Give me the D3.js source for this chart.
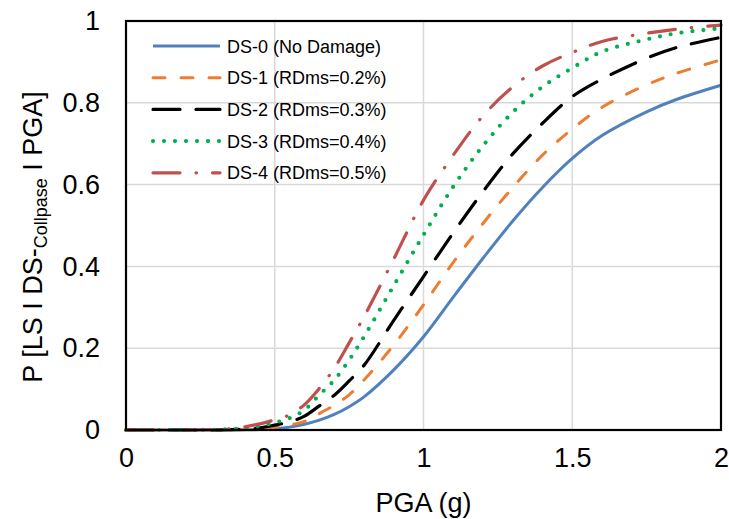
<!DOCTYPE html>
<html>
<head>
<meta charset="utf-8">
<script src="https://cdn.jsdelivr.net/npm/d3@7"></script>
<style>
  body { margin: 0; background: #fff; }
  text { font-family: "Liberation Sans", Arial, sans-serif; fill: #000; }
</style>
</head>
<body>
<div id="chart"></div>
<script>

var pgaValues = [0, 0.1, 0.2, 0.3, 0.35, 0.4, 0.45, 0.5, 0.55, 0.6, 0.65, 0.7, 0.75, 0.8,
  0.9, 1.0, 1.1, 1.2, 1.3, 1.4, 1.5, 1.6, 1.75, 1.85, 2.0];

// probability of collapse for each damage state
var ds0 = [0, 0, 0, 0, 0, 0.0005, 0.001, 0.003, 0.007, 0.014, 0.024, 0.038, 0.057, 0.081,
  0.147, 0.228, 0.325, 0.42, 0.511, 0.593, 0.664, 0.72, 0.778, 0.808, 0.843];
var ds1 = [0, 0, 0, 0, 0, 0.001, 0.003, 0.007, 0.012, 0.021, 0.04, 0.061, 0.086, 0.122,
  0.208, 0.306, 0.41, 0.505, 0.593, 0.672, 0.736, 0.789, 0.844, 0.872, 0.905];
var ds2 = [0, 0, 0, 0, 0.001, 0.002, 0.005, 0.012, 0.02, 0.034, 0.059, 0.085, 0.12, 0.158,
  0.268, 0.375, 0.482, 0.583, 0.675, 0.75, 0.815, 0.858, 0.909, 0.935, 0.96];
var ds3 = [0, 0, 0, 0.0005, 0.002, 0.004, 0.01, 0.018, 0.029, 0.049, 0.086, 0.122, 0.171, 0.228,
  0.353, 0.477, 0.595, 0.695, 0.777, 0.839, 0.885, 0.925, 0.955, 0.97, 0.982];
var ds4 = [0, 0, 0, 0.001, 0.003, 0.008, 0.015, 0.025, 0.037, 0.062, 0.102, 0.151, 0.213, 0.277,
  0.418, 0.562, 0.672, 0.768, 0.839, 0.89, 0.923, 0.95, 0.97, 0.98, 0.99];

var seriesNames = ["DS-0 (No Damage)", "DS-1 (RDms=0.2%)", "DS-2 (RDms=0.3%)",
  "DS-3 (RDms=0.4%)", "DS-4 (RDms=0.5%)"];

var xTicks = [0, 0.5, 1, 1.5, 2];
var yTicks = [0, 0.2, 0.4, 0.6, 0.8, 1];

// line styles (Excel look)
var styles = [
  { color: "#4f81bd", width: 3, dash: null, cap: "butt" },
  { color: "#ed7d31", width: 3, dash: "12,16", cap: "round" },
  { color: "#000000", width: 3.2, dash: "27,16", cap: "round" },
  { color: "#00b050", width: 4.2, dash: "0,11", cap: "round" },
  { color: "#c0504d", width: 3.2, dash: "27,16,0.5,16", cap: "round" }
];

var allSeries = [ds0, ds1, ds2, ds3, ds4];

var svgWidth = 729;
var svgHeight = 519;

var margin = { top: 21, right: 8, bottom: 89, left: 126 };
var width = svgWidth - margin.left - margin.right;
var height = svgHeight - margin.top - margin.bottom;

var svg = d3.select("#chart")
  .append("svg")
  .attr("width", svgWidth)
  .attr("height", svgHeight);

var chartGroup = svg.append("g")
  .attr("transform", `translate(${margin.left}, ${margin.top})`);

// scales
var xScale = d3.scaleLinear().domain([0, 2]).range([0, width]);
var yScale = d3.scaleLinear().domain([0, 1]).range([height, 0]);

// gridlines
chartGroup.append("g")
  .selectAll("line")
  .data(xTicks.slice(1, -1))
  .enter()
  .append("line")
  .attr("x1", d => xScale(d))
  .attr("x2", d => xScale(d))
  .attr("y1", 0)
  .attr("y2", height)
  .attr("stroke", "#d9d9d9")
  .attr("stroke-width", 1.5);

chartGroup.append("g")
  .selectAll("line")
  .data(yTicks.slice(1, -1))
  .enter()
  .append("line")
  .attr("x1", 0)
  .attr("x2", width)
  .attr("y1", d => yScale(d))
  .attr("y2", d => yScale(d))
  .attr("stroke", "#d9d9d9")
  .attr("stroke-width", 1.5);

// axes (labels only, no tick marks)
var xAxis = d3.axisBottom(xScale).tickValues(xTicks).tickSize(0).tickPadding(18)
  .tickFormat(d3.format("~g"));
var yAxis = d3.axisLeft(yScale).tickValues(yTicks).tickSize(0).tickPadding(26)
  .tickFormat(d3.format("~g"));

var xAxisGroup = chartGroup.append("g")
  .attr("transform", `translate(0, ${height})`)
  .call(xAxis);
var yAxisGroup = chartGroup.append("g").call(yAxis);

[xAxisGroup, yAxisGroup].forEach(function(g) {
  g.select(".domain").remove();
  g.selectAll("text")
    .attr("font-size", "27px")
    .attr("font-family", "Liberation Sans, Arial, sans-serif")
    .attr("fill", "#000");
});

// curves (smoothed like Excel's smoothed lines)
var line = d3.line()
  .x((d, i) => xScale(pgaValues[i]))
  .y(d => yScale(Math.max(0, d)))
  .curve(d3.curveCatmullRom.alpha(0.5));

chartGroup.append("g")
  .selectAll("path")
  .data(allSeries)
  .enter()
  .append("path")
  .attr("d", d => line(d))
  .attr("fill", "none")
  .attr("stroke", (d, i) => styles[i].color)
  .attr("stroke-width", (d, i) => styles[i].width)
  .attr("stroke-dasharray", (d, i) => styles[i].dash)
  .attr("stroke-linecap", (d, i) => styles[i].cap);

// plot frame
chartGroup.append("rect")
  .attr("x", 0)
  .attr("y", 0)
  .attr("width", width)
  .attr("height", height)
  .attr("fill", "none")
  .attr("stroke", "#000")
  .attr("stroke-width", 2.2);

// legend
var legend = svg.append("g").attr("transform", "translate(152, 46)");
var legendRows = legend.selectAll("g")
  .data(seriesNames)
  .enter()
  .append("g")
  .attr("transform", (d, i) => `translate(0, ${i * 31.7})`);

legendRows.append("line")
  .attr("x1", 1)
  .attr("x2", 68)
  .attr("y1", 0)
  .attr("y2", 0)
  .attr("stroke", (d, i) => styles[i].color)
  .attr("stroke-width", (d, i) => styles[i].width)
  .attr("stroke-dasharray", (d, i) => styles[i].dash)
  .attr("stroke-linecap", (d, i) => styles[i].cap);

legendRows.append("text")
  .attr("x", 75)
  .attr("y", 6.5)
  .attr("font-size", "18px")
  .text(d => d);

// axis titles
svg.append("text")
  .attr("x", margin.left + width / 2)
  .attr("y", 512)
  .attr("text-anchor", "middle")
  .attr("font-size", "27px")
  .text("PGA (g)");

var yTitle = svg.append("text")
  .attr("transform", "translate(42, 237) rotate(-90)")
  .attr("text-anchor", "middle")
  .attr("font-size", "27px");
yTitle.append("tspan").text("P [LS I DS-");
yTitle.append("tspan").attr("font-size", "18px").attr("dy", 5).text("Collpase");
yTitle.append("tspan").attr("dy", -5).text(" I PGA]");

</script>
</body>
</html>
